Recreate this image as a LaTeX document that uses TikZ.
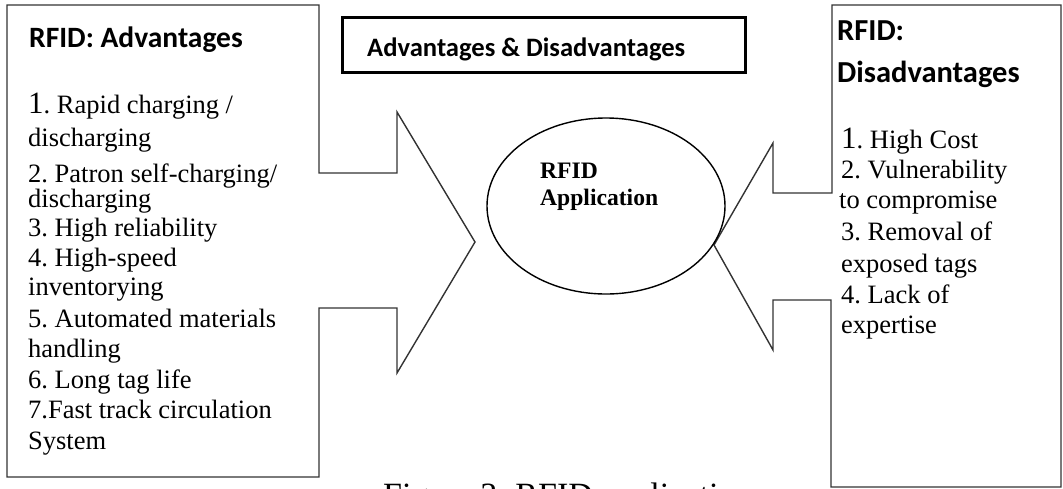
\documentclass[tikz,border=0pt]{standalone}
\usepackage{fontspec}
\setmainfont{Liberation Serif}
\newfontfamily\calibri{Carlito}
\usetikzlibrary{shapes.geometric}
\frenchspacing
\newcommand\firstnum{{\fontsize{31}{31}\selectfont 1}}
\begin{document}
\begin{tikzpicture}[x=1pt,y=-1pt,
  outline/.style={draw=black!80, line width=1.4pt, line join=miter},
  head/.style={font=\calibri\bfseries\fontsize{29.5}{32}\selectfont, anchor=base west, inner sep=0pt},
  item/.style={font=\fontsize{26.5}{28}\selectfont, anchor=base west, inner sep=0pt},
  bolditem/.style={font=\bfseries\fontsize{23.6}{26}\selectfont, anchor=base west, inner sep=0pt},
  titlebox/.style={draw=black, line width=3pt, minimum width=403pt, minimum height=55pt, inner sep=0pt},
  appshape/.style={draw=black, ellipse, line width=1.4pt, minimum width=238pt, minimum height=176pt, inner sep=0pt}]
\useasboundingbox (0,0) rectangle (1063,488);
\clip (0,0) rectangle (1063,488);

% left panel with its arrow pointing at the centre
\draw[outline] (7,5) -- (319,5) -- (319,173) -- (397,173) -- (397,112) -- (475,242)
  -- (397,373) -- (397,308) -- (319,308) -- (319,477) -- (7,477) -- cycle;

% right panel with its arrow pointing at the centre
\draw[outline] (832,5) -- (1061,5) -- (1061,487) -- (831,487) -- (831,300) -- (773,300)
  -- (773,350) -- (714,245) -- (773,143) -- (773,193) -- (832,193) -- cycle;

% title box
\node[titlebox] (title) at (543.5,44.5) {};
\node[head, font=\calibri\bfseries\fontsize{26.6}{30}\selectfont] (titletext) at (367,56) {Advantages \& Disadvantages};

% centre ellipse
\node[appshape] (app) at (606,206) {};
\node[bolditem] (appA) at (540,178) {RFID};
\node[bolditem] (appB) at (540,205) {Application};

% advantages
\node[head] (advhead) at (29,47) {RFID: Advantages};
\node[item] (adv1) at (28,113) {\firstnum. Rapid charging /};
\node[item] (adv2) at (28,146) {discharging};
\node[item] (adv3) at (28,182) {2. Patron self-charging/};
\node[item] (adv4) at (28,207) {discharging};
\node[item] (adv5) at (28,236) {3. High reliability};
\node[item] (adv6) at (28,266) {4. High-speed};
\node[item] (adv7) at (28,295) {inventorying};
\node[item] (adv8) at (28,327) {5. Automated materials};
\node[item] (adv9) at (28,357) {handling};
\node[item] (adv10) at (28,388) {6. Long tag life};
\node[item] (adv11) at (28,418) {7.Fast track circulation};
\node[item] (adv12) at (28,449) {System};

% disadvantages
\node[head, font=\calibri\bfseries\fontsize{30.5}{32}\selectfont] (dishead1) at (837,40) {RFID:};
\node[head, font=\calibri\bfseries\fontsize{30.5}{32}\selectfont] (dishead2) at (837,82) {Disadvantages};
\node[item] (dis1) at (841,148) {\firstnum. High Cost};
\node[item] (dis2) at (841,178) {2. Vulnerability};
\node[item] (dis3) at (839,208) {to compromise};
\node[item] (dis4) at (841,240) {3. Removal of};
\node[item] (dis5) at (841,272) {exposed tags};
\node[item] (dis6) at (841,303) {4. Lack of};
\node[item] (dis7) at (841,333) {expertise};

% caption, cut by the page edge
\node[item, font=\fontsize{34}{36}\selectfont] (caption) at (383,506) {Figure 3: RFID application};
\end{tikzpicture}
\end{document}
